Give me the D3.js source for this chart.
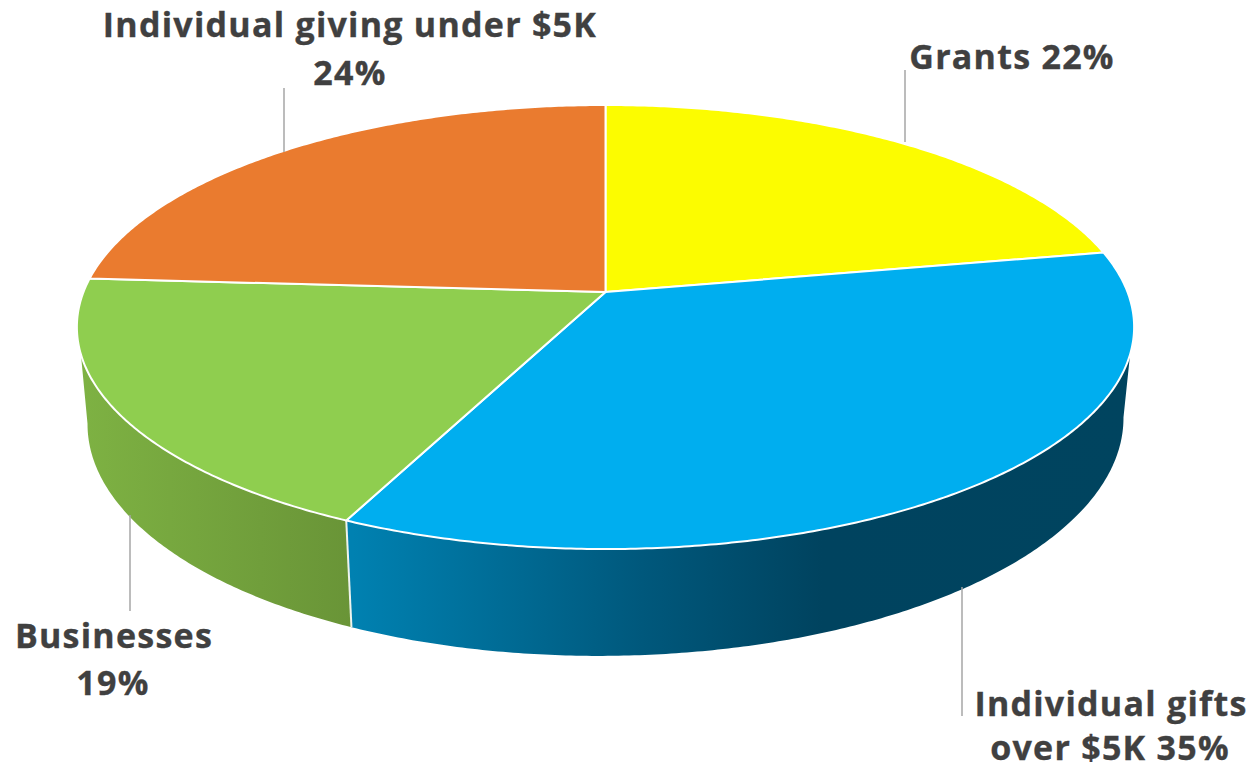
<!DOCTYPE html>
<html>
<head>
<meta charset="utf-8">
<script src="https://cdn.jsdelivr.net/npm/d3@7/dist/d3.min.js"></script>
<style>
  html, body { margin: 0; padding: 0; background: #fff; }
  svg { display: block; }
  text { font-family: "Open Sans", sans-serif; font-weight: 700; fill: #404040; stroke: #404040; stroke-width: 0.35; letter-spacing: 1.25px; }
</style>
</head>
<body>
<svg id="chart" width="1251" height="770"></svg>
<script>
// Funding sources, clockwise from twelve o'clock
const categories = ["Grants", "Individual gifts over $5K", "Businesses", "Individual giving under $5K"];
const shares = [22, 35, 19, 24];
const faceColors = ["#fcfc00", "#00aeef", "#8fce4f", "#ea7b2f"];

// Label text, one entry per line
const labelLines = [
  [{ t: "Grants 22%", x: 1012, y: 69 }],
  [{ t: "Individual gifts", x: 1111, y: 716 }, { t: "over $5K 35%", x: 1110, y: 760 }],
  [{ t: "Businesses", x: 114, y: 648 }, { t: "19%", x: 113, y: 695 }],
  [{ t: "Individual giving under $5K", x: 350, y: 37 }, { t: "24%", x: 350, y: 85 }]
];
const leaders = [
  { x: 905, y1: 70, y2: 142 },
  { x: 962, y1: 587, y2: 716 },
  { x: 130, y1: 515, y2: 611 },
  { x: 284, y1: 88, y2: 152 }
];

const apex = { x: 605.5, y: 292 };
const tilt = 0.1577;             // perspective strength of the disc
const topFace = { cx: 522, ay: 216.5, y0: 0, skew: 0 };
const bottomFace = { cx: 511.5, ay: 229, y0: 92, skew: -0.006 };
const deg = Math.PI / 180;

// Maps a clockwise pie angle on a disc to page coordinates under perspective
function project(face, angle) {
  const u = Math.sin(angle), v = -Math.cos(angle), w = 1 - tilt * v;
  const X = face.cx * u / w;
  return [apex.x + X, apex.y + face.y0 + face.ay * v / w + face.skew * X];
}
function arcPoints(face, a0, a1) {
  const n = Math.max(2, Math.ceil(Math.abs(a1 - a0) / (0.5 * deg)));
  return d3.range(n + 1).map(i => project(face, a0 + (a1 - a0) * i / n));
}

const svg = d3.select("#chart");
const path = d3.line();
const slices = d3.pie().sort(null).startAngle(0).endAngle(2 * Math.PI)(shares);

// Horizontal shading of the rim
const defs = svg.append("defs");
const rimStops = {
  "Individual gifts over $5K": { x1: 353, x2: 1135, stops: [[0, "#0081b1"], [0.37, "#00587c"], [0.6, "#00435f"], [1, "#00445f"]] },
  "Businesses": { x1: 78, x2: 353, stops: [[0, "#7eb243"], [1, "#699437"]] }
};
Object.entries(rimStops).forEach(([name, g]) => {
  const lg = defs.append("linearGradient")
    .attr("id", "rim" + categories.indexOf(name))
    .attr("gradientUnits", "userSpaceOnUse")
    .attr("x1", g.x1).attr("x2", g.x2).attr("y1", 0).attr("y2", 0);
  g.stops.forEach(s => lg.append("stop").attr("offset", s[0]).attr("stop-color", s[1]));
});

// Rim: only the part that faces the viewer
const rimTop = [106 * deg, 254 * deg];
const rimBottom = [99 * deg, 261 * deg];
svg.append("g").selectAll("path")
  .data(slices.filter(d => d.endAngle > rimTop[0] && d.startAngle < rimTop[1]))
  .join("path")
  .attr("d", d => {
    const t0 = Math.max(d.startAngle, rimTop[0]), t1 = Math.min(d.endAngle, rimTop[1]);
    const b0 = Math.max(d.startAngle, rimBottom[0]), b1 = Math.min(d.endAngle, rimBottom[1]);
    return path(arcPoints(topFace, t0, t1).concat(arcPoints(bottomFace, b1, b0))) + "Z";
  })
  .attr("fill", d => `url(#rim${d.index})`);

// Seam between the two visible rim sections
const seam = slices.find(d => d.index === 1).endAngle;
svg.append("path")
  .attr("d", path([project(topFace, seam), project(bottomFace, seam)]))
  .attr("stroke", "#eef3ee").attr("stroke-width", 2).attr("fill", "none");

// Top faces
svg.append("g").selectAll("path")
  .data(slices)
  .join("path")
  .attr("d", d => path([[apex.x, apex.y]].concat(arcPoints(topFace, d.startAngle, d.endAngle))) + "Z")
  .attr("fill", d => faceColors[d.index])
  .attr("stroke", "#fff")
  .attr("stroke-width", 2)
  .attr("stroke-linejoin", "round");

// Leader lines
svg.append("g").selectAll("line")
  .data(leaders)
  .join("line")
  .attr("x1", d => d.x).attr("x2", d => d.x)
  .attr("y1", d => d.y1).attr("y2", d => d.y2)
  .attr("stroke", "#a6a6a6").attr("stroke-width", 1.5);

// Labels
svg.append("g").selectAll("text")
  .data(labelLines.flat())
  .join("text")
  .attr("x", d => d.x).attr("y", d => d.y)
  .attr("text-anchor", "middle")
  .attr("font-size", 34)
  .text(d => d.t);
</script>
</body>
</html>
